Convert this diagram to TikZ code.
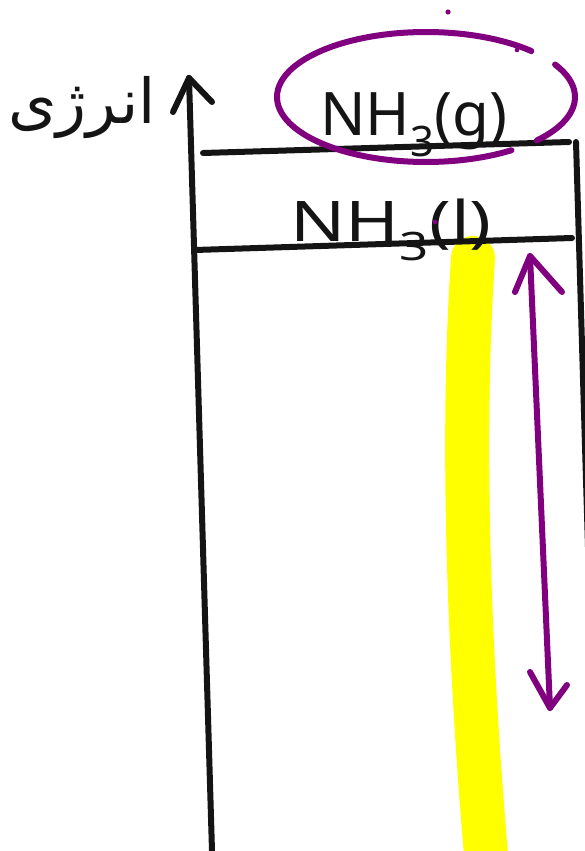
\documentclass[tikz,border=0pt]{standalone}
\usepackage{fontspec}
\setmainfont{Noto Sans}
\newfontfamily\arabicfont[Script=Arabic]{DejaVu Sans}
\TeXXeTstate=1
\definecolor{pen}{RGB}{20,20,20}
\definecolor{violet}{RGB}{128,0,128}
\definecolor{marker}{RGB}{255,255,0}
\tikzset{
  ink/.style={draw=pen, line width=6pt, line cap=round, line join=round},
  vink/.style={draw=violet, line width=6pt, line cap=round, line join=round},
  label/.style={inner sep=0pt, text=pen},
}
\begin{document}
\begin{tikzpicture}[x=1pt,y=-1pt]
\useasboundingbox (0,0) rectangle (585,851);
\fill[white] (0,0) rectangle (585,851);

% highlighter stroke below the liquid level
\draw[draw=marker, line width=44pt, line cap=round]
  (473,258) .. controls (462,420) and (466,640) .. (490,900);

% energy axis and frame
\coordinate (axbot) at (212,851);
\coordinate (axtop) at (189,78);
\coordinate (wl) at (173,112);
\coordinate (wr) at (212,102);
\draw[ink] (axbot) -- (axtop);
\draw[ink] (axtop) -- (wl);
\draw[ink] (axtop) -- (wr);

\coordinate (rtop) at (576,142);
\coordinate (rbot) at (597,851);
\draw[ink] (rtop) -- (rbot);

% energy levels
\coordinate (gl) at (203,153);
\coordinate (gr) at (569,142);
\coordinate (ll) at (195,250);
\coordinate (lr) at (572,238);
\draw[ink] (gl) -- (gr);
\draw[ink] (ll) -- (lr);

% level labels
\node[label, anchor=base west, font=\fontsize{60}{60}\selectfont] (gas) at (320,135) {NH\textsubscript{3}(g)};
\node[label, anchor=base west, xscale=1.3, font=\fontsize{56}{56}\selectfont] (liq) at (290,241) {NH\textsubscript{3}(l)};

% axis title
\node[label, font=\arabicfont\fontsize{62}{62}\selectfont] (energy) at (82,108) {\beginR انرژی\endR};

% ring round the gas level
\draw[vink] plot[smooth, domain=-45:-305, samples=60] ({426+149*cos(\x)},{97+65*sin(\x)});
\draw[vink] plot[smooth, domain=42:-30, samples=20] ({426+149*cos(\x)},{97+65*sin(\x)});
\fill[violet] (448,12) circle (2.6pt);
\fill[violet] (435,222) circle (2.3pt);
\fill[violet] (517,50) circle (2.3pt);

% gap between the two levels
\coordinate (atop) at (530,256);
\coordinate (abot) at (550,708);
\draw[vink] (atop) -- (abot);
\draw[vink] (515,292) -- (atop) -- (562,292);
\draw[vink] (530,672) -- (abot) -- (567,685);
\end{tikzpicture}
\end{document}
